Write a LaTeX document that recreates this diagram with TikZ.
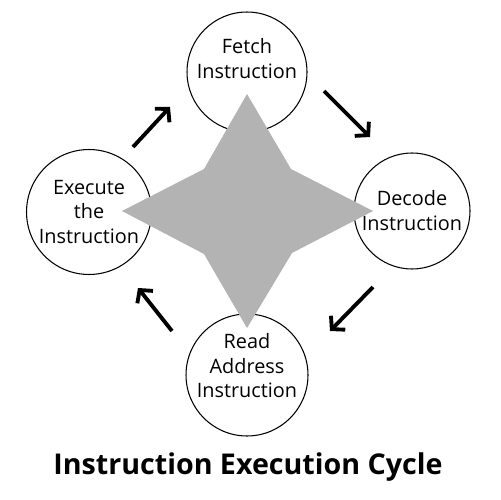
\documentclass[tikz,border=0pt]{standalone}
\usepackage{fontspec}
\setmainfont{Open Sans}
\definecolor{stargray}{RGB}{179, 179, 179}
\usepackage{tikz}
\usetikzlibrary{arrows.meta, positioning, calc}

\begin{document}
\begin{tikzpicture}[
  x=0.02cm, y=-0.02cm,
  stepcirc/.style={circle, draw=black, line width=0.6pt, fill=white, minimum size=2.4cm, align=center, inner sep=-5mm, font=\fontsize{11.3}{14.2}\selectfont},
  cycarrow/.style={-{Straight Barb[length=1.8mm, width=4mm]}, line width=2.2pt, black}
]
  \useasboundingbox (0,0) rectangle (500,500);

  % Steps of the cycle
  \node[stepcirc, text depth=0.55cm] (fetch) at (247, 72) {Fetch\\Instruction};
  \node[stepcirc, minimum size=2.32cm] (decode) at (412, 211) {Decode\\Instruction};
  \node[stepcirc, minimum size=2.44cm, text depth=0.38cm] (read) at (247, 375) {Read\\Address\\Instruction};
  \node[stepcirc, minimum size=2.5cm] (exec) at (89, 212) {Execute\\the\\Instruction};

  % Star in the middle
  \fill[stargray] (247, 94) -- (291, 169) -- (373, 211) -- (292, 253)
    -- (247, 328) -- (204, 254) -- (122, 211) -- (204, 169) -- cycle;

  % Arrows between the steps
  \coordinate (e2f) at (133, 147);  \coordinate (e2fend) at (170, 107);
  \coordinate (f2d) at (324, 91);   \coordinate (f2dend) at (370, 137);
  \coordinate (d2r) at (373, 287);  \coordinate (d2rend) at (330, 331);
  \coordinate (r2e) at (172, 331);  \coordinate (r2eend) at (138, 288);
  \draw[cycarrow] (e2f) -- (e2fend);
  \draw[cycarrow] (f2d) -- (f2dend);
  \draw[cycarrow] (d2r) -- (d2rend);
  \draw[cycarrow] (r2e) -- (r2eend);

  % Title
  \node[font=\fontsize{16.3}{20}\selectfont\bfseries] (title) at (248, 467) {Instruction Execution Cycle};
\end{tikzpicture}
\end{document}
